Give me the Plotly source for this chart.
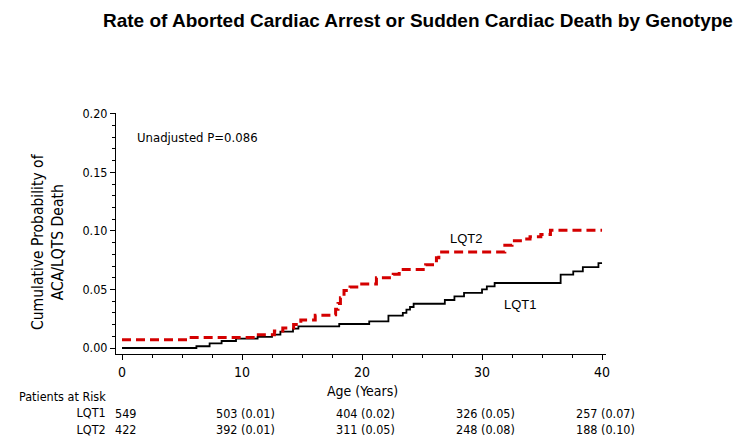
import plotly.graph_objects as go

# ---- data ----
lqt1_age = [0, 6.2, 7.3, 8.3, 9.5, 11.3, 12.5, 13.2, 14.25, 14.7, 18.1, 20.6, 22.2, 23.4, 23.7, 24.0, 24.3,
            26.9, 27.7, 28.5, 30.0, 30.4, 31.05, 36.55, 37.6, 38.4, 39.7, 40.0]
lqt1_prob = [0.0, 0.0015, 0.004, 0.006, 0.008, 0.0095, 0.0115, 0.014, 0.0165, 0.0185, 0.0205, 0.0228, 0.0276,
             0.030, 0.0327, 0.035, 0.0378, 0.041, 0.044, 0.047, 0.050, 0.0527, 0.0555, 0.0626, 0.0655, 0.069,
             0.0725, 0.0725]

lqt2_age = [0, 5.6, 11.2, 12.7, 13.4, 14.3, 14.9, 16.1, 17.6, 17.8, 18.0, 18.2, 18.5, 19.0, 19.8, 21.2, 22.6,
            23.1, 25.3, 26.0, 26.2, 26.4, 31.9, 32.5, 33.4, 34.0, 34.9, 35.7, 40.0]
lqt2_prob = [0.007, 0.009, 0.0114, 0.0145, 0.017, 0.020, 0.024, 0.028, 0.0285, 0.033, 0.038, 0.043, 0.049,
             0.052, 0.0546, 0.060, 0.063, 0.067, 0.071, 0.0725, 0.077, 0.082, 0.0877, 0.0916, 0.093, 0.095,
             0.097, 0.1005, 0.1005]

risk_ages = [0, 10, 20, 30, 40]
risk_lqt1 = ["549", "503 (0.01)", "404 (0.02)", "326 (0.05)", "257 (0.07)"]
risk_lqt2 = ["422", "392 (0.01)", "311 (0.05)", "248 (0.08)", "188 (0.10)"]

# ---- geometry helpers ----
W, H = 750, 440
ML, MR, MT, MB = 108, 152, 105, 94
PW, PH = W - ML - MR, H - MT - MB


def py(y):  # pixel y -> paper y
    return (H - MB - y) / PH


def px(x):  # pixel x -> paper x
    return (x - ML) / PW


FONT = "Arial, Liberation Sans, sans-serif"
COND = "DejaVu Sans Condensed, Arial, sans-serif"
TSIZE = 12.5
LINE = 1.3 * TSIZE          # plotly line spacing
ROW1 = 405
ROWS_MID = ROW1 + LINE / 2   # centre of the two data rows

fig = go.Figure()
fig.add_trace(go.Scatter(x=lqt1_age, y=lqt1_prob, mode="lines", line_shape="hv",
                         line=dict(color="black", width=1.8), name="LQT1", showlegend=False))
fig.add_trace(go.Scatter(x=lqt2_age, y=lqt2_prob, mode="lines", line_shape="hv",
                         line=dict(color="#d40000", width=3, dash="9px,5px"), name="LQT2",
                         showlegend=False))

ann = []
ann.append(dict(text="<b>Rate of Aborted Cardiac Arrest or Sudden Cardiac Death by Genotype</b>",
                xref="paper", yref="paper", x=px(410), y=py(12), showarrow=False,
                font=dict(family=FONT, size=19, color="black"), xanchor="center", yanchor="middle"))
ann.append(dict(text="Unadjusted P=0.086", xref="paper", yref="paper", x=px(127), y=py(129),
                showarrow=False, font=dict(family=COND, size=13, color="black"),
                xanchor="left", yanchor="middle"))
ann.append(dict(text="LQT2", xref="paper", yref="paper", x=px(458), y=py(230), showarrow=False,
                font=dict(family=FONT, size=13, color="black"), xanchor="center", yanchor="middle"))
ann.append(dict(text="LQT1", xref="paper", yref="paper", x=px(512), y=py(296), showarrow=False,
                font=dict(family=FONT, size=13, color="black"), xanchor="center", yanchor="middle"))
ann.append(dict(text="Cumulative Probability of<br>ACA/LQTS Death", xref="paper", yref="paper",
                x=px(40), y=py(234), showarrow=False, textangle=-90,
                font=dict(family=COND, size=15.5, color="black"), xanchor="center", yanchor="middle"))
ann.append(dict(text="Age (Years)", xref="paper", yref="paper", x=px(354), y=py(383), showarrow=False,
                font=dict(family=COND, size=14, color="black"), xanchor="center", yanchor="middle"))
# left block: heading + row labels, right-aligned
ann.append(dict(text="Patients at Risk<br>LQT1<br>LQT2", xref="paper", yref="paper", x=px(99),
                y=py(ROW1), showarrow=False, align="right", borderpad=0,
                font=dict(family=COND, size=TSIZE, color="black"), xanchor="right", yanchor="middle"))
# number columns at each age tick
for a, t1, t2 in zip(risk_ages, risk_lqt1, risk_lqt2):
    ann.append(dict(text=t1 + "<br>" + t2, xref="x", yref="paper", x=a, y=py(ROWS_MID),
                    showarrow=False, xshift=3, borderpad=0, align="center",
                    font=dict(family=COND, size=TSIZE, color="black"), xanchor="center",
                    yanchor="middle"))

fig.update_layout(
    width=W, height=H, margin=dict(l=ML, r=MR, t=MT, b=MB),
    paper_bgcolor="white", plot_bgcolor="white", showlegend=False,
    annotations=ann,
    xaxis=dict(range=[-0.5, 40.33], tickvals=risk_ages, showgrid=False, zeroline=False,
               showline=True, linecolor="black", linewidth=1, ticks="outside", ticklen=5,
               tickcolor="black", tickfont=dict(family=COND, size=14, color="black"),
               minor=dict(dtick=2.5, tick0=0, ticks="outside", ticklen=3, tickcolor="black")),
    yaxis=dict(range=[-0.0051, 0.2006], tickvals=[0, 0.05, 0.10, 0.15, 0.20], tickformat=".2f",
               showgrid=False, zeroline=False, showline=True, linecolor="black", linewidth=1,
               ticks="outside", ticklen=5, tickcolor="black",
               tickfont=dict(family=COND, size=12.5, color="black"),
               minor=dict(dtick=0.01, tick0=0, ticks="outside", ticklen=3, tickcolor="black")),
)

fig.write_html("out.html")
